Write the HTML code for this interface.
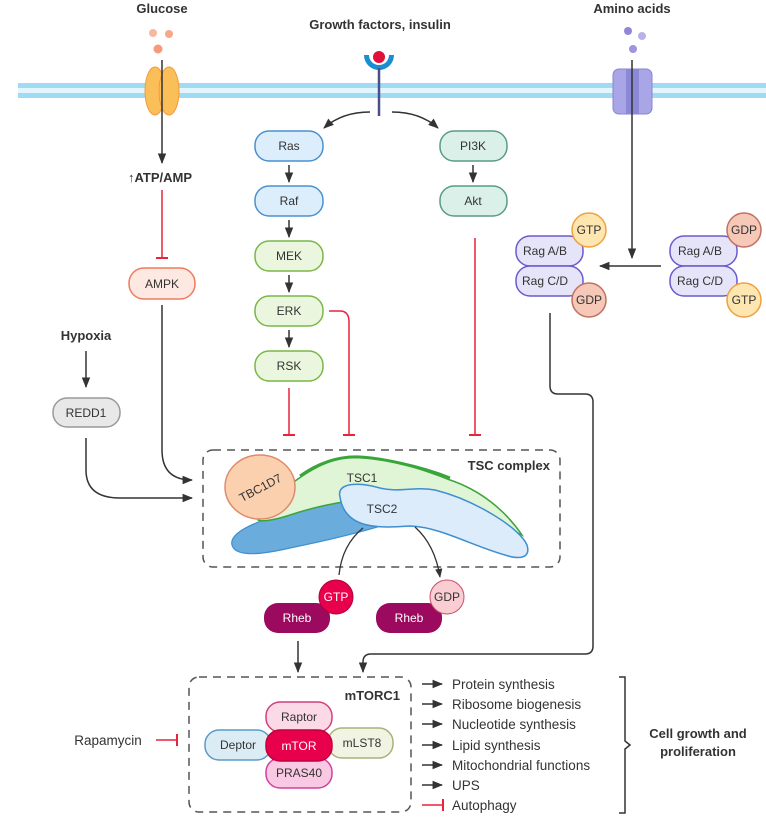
<!DOCTYPE html>
<html><head><meta charset="utf-8"><style>
html,body{margin:0;padding:0;background:#fff;}
svg{display:block;font-family:"Liberation Sans",sans-serif;}
.b{font-weight:bold;fill:#333;font-size:13px;}
.t{font-size:12px;fill:#333;}
.o{font-size:13.5px;fill:#333;}
</style></head><body>
<svg width="766" height="824" viewBox="0 0 766 824" xmlns="http://www.w3.org/2000/svg">
<defs>
<marker id="ah" viewBox="0 0 10 10" refX="9" refY="5" markerWidth="7" markerHeight="7" orient="auto-start-reverse"><path d="M0,1 L10,5 L0,9 Z" fill="#333"/></marker>
</defs>
<!-- membrane -->
<rect x="18" y="83" width="748" height="15" fill="#e3f6fd"/>
<rect x="18" y="83" width="748" height="5" fill="#9fdcf3"/>
<rect x="18" y="93" width="748" height="5" fill="#9fdcf3"/>

<!-- top labels -->
<text x="162" y="13" text-anchor="middle" class="b">Glucose</text>
<text x="380" y="29" text-anchor="middle" class="b">Growth factors, insulin</text>
<text x="632" y="13" text-anchor="middle" class="b">Amino acids</text>

<!-- glucose -->
<circle cx="153" cy="33" r="4" fill="#f8b8a0"/><circle cx="169" cy="34" r="4" fill="#f8a888"/><circle cx="158" cy="49" r="4.5" fill="#f59a7a"/>
<ellipse cx="155" cy="91" rx="10" ry="24" fill="#fbbf5a" stroke="#f39a3a"/>
<ellipse cx="169" cy="91" rx="10" ry="24" fill="#fbbf5a" stroke="#f39a3a"/>
<line x1="162" y1="60" x2="162" y2="163" stroke="#333" stroke-width="1.5" marker-end="url(#ah)"/>
<text x="160" y="182" text-anchor="middle" class="b" font-size="14">↑ATP/AMP</text>
<line x1="162" y1="190" x2="162" y2="258" stroke="#e8243c" stroke-width="1.5"/>
<line x1="156" y1="258" x2="168" y2="258" stroke="#e8243c" stroke-width="2"/>
<rect x="129" y="268" width="66" height="31" rx="15" fill="#fde9e2" stroke="#f07a5e" stroke-width="1.5"/>
<text x="162" y="288" text-anchor="middle" class="t">AMPK</text>
<path d="M162,305 L162,450 Q162,480 192,480" fill="none" stroke="#333" stroke-width="1.5" marker-end="url(#ah)"/>

<text x="86" y="340" text-anchor="middle" class="b">Hypoxia</text>
<line x1="86" y1="351" x2="86" y2="387" stroke="#333" stroke-width="1.5" marker-end="url(#ah)"/>
<rect x="53" y="398" width="67" height="29" rx="14" fill="#e8e8e8" stroke="#999" stroke-width="1.5"/>
<text x="86" y="417" text-anchor="middle" class="t">REDD1</text>
<path d="M86,438 L86,470 Q86,498 120,498 L192,498" fill="none" stroke="#333" stroke-width="1.5" marker-end="url(#ah)"/>

<!-- receptor -->
<path d="M364,55 A15,15 0 0 0 394,55 L389,55 A10,10 0 0 1 369,55 Z" fill="#1b8ed0"/>
<line x1="379" y1="68" x2="379" y2="116" stroke="#4a4f8c" stroke-width="2.5"/>
<circle cx="379" cy="57" r="6" fill="#e0103a"/>
<path d="M370,112 Q342,112 324,128" fill="none" stroke="#333" stroke-width="1.5" marker-end="url(#ah)"/>
<path d="M392,112 Q420,112 438,128" fill="none" stroke="#333" stroke-width="1.5" marker-end="url(#ah)"/>

<!-- MAPK column -->
<g stroke-width="1.5">
<rect x="255" y="131" width="68" height="30" rx="14" fill="#dcedfc" stroke="#4a90d0"/>
<rect x="255" y="186" width="68" height="30" rx="14" fill="#dcedfc" stroke="#4a90d0"/>
<rect x="255" y="241" width="68" height="30" rx="14" fill="#ebf6df" stroke="#7ab648"/>
<rect x="255" y="296" width="68" height="30" rx="14" fill="#ebf6df" stroke="#7ab648"/>
<rect x="255" y="351" width="68" height="30" rx="14" fill="#ebf6df" stroke="#7ab648"/>
<rect x="440" y="131" width="67" height="30" rx="14" fill="#dcf0ea" stroke="#5a9a88"/>
<rect x="440" y="186" width="67" height="30" rx="14" fill="#dcf0ea" stroke="#5a9a88"/>
</g>
<g class="t" text-anchor="middle">
<text x="289" y="150">Ras</text><text x="289" y="205">Raf</text><text x="289" y="260">MEK</text><text x="289" y="315">ERK</text><text x="289" y="370">RSK</text>
<text x="473" y="150">PI3K</text><text x="473" y="205">Akt</text>
</g>
<g stroke="#333" stroke-width="1.5" marker-end="url(#ah)">
<line x1="289" y1="165" x2="289" y2="182"/><line x1="289" y1="220" x2="289" y2="237"/><line x1="289" y1="275" x2="289" y2="292"/><line x1="289" y1="330" x2="289" y2="347"/><line x1="473" y1="165" x2="473" y2="182"/>
</g>
<g stroke="#e8243c" stroke-width="1.5" fill="none">
<line x1="289" y1="388" x2="289" y2="435"/><line x1="283" y1="435" x2="295" y2="435" stroke-width="2"/>
<path d="M329,311 L340,311 Q349,311 349,322 L349,435"/><line x1="343" y1="435" x2="355" y2="435" stroke-width="2"/>
<line x1="475" y1="238" x2="475" y2="435"/><line x1="469" y1="435" x2="481" y2="435" stroke-width="2"/>
</g>

<!-- amino acids -->
<circle cx="628" cy="31" r="4" fill="#8f87d8"/><circle cx="642" cy="36" r="4" fill="#b8b2ea"/><circle cx="633" cy="49" r="4" fill="#9d96dd"/>
<rect x="613" y="69" width="39" height="45" rx="6" fill="#a8a6e6" stroke="#8784d0"/>
<rect x="626" y="69" width="13" height="45" fill="#8b88d6"/>
<line x1="632" y1="60" x2="632" y2="258" stroke="#333" stroke-width="1.5" marker-end="url(#ah)"/>
<line x1="661" y1="266" x2="600" y2="266" stroke="#333" stroke-width="1.5" marker-end="url(#ah)"/>
<g stroke-width="1.5">
<rect x="516" y="236" width="67" height="30" rx="14" fill="#e6e4f8" stroke="#6a5acd"/>
<rect x="516" y="266" width="67" height="30" rx="14" fill="#e6e4f8" stroke="#6a5acd"/>
<rect x="670" y="236" width="67" height="30" rx="14" fill="#e6e4f8" stroke="#6a5acd"/>
<rect x="670" y="266" width="67" height="30" rx="14" fill="#e6e4f8" stroke="#6a5acd"/>
<circle cx="589" cy="230" r="17" fill="#fde6b0" stroke="#f0a040"/>
<circle cx="589" cy="300" r="17" fill="#f5c8b8" stroke="#c07060"/>
<circle cx="744" cy="230" r="17" fill="#f5c8b8" stroke="#c07060"/>
<circle cx="744" cy="300" r="17" fill="#fde6b0" stroke="#f0a040"/>
</g>
<g class="t" text-anchor="middle">
<text x="545" y="255">Rag A/B</text><text x="545" y="285">Rag C/D</text>
<text x="700" y="255">Rag A/B</text><text x="700" y="285">Rag C/D</text>
<text x="589" y="234">GTP</text><text x="589" y="304">GDP</text><text x="744" y="234">GDP</text><text x="744" y="304">GTP</text>
</g>
<path d="M550,313 L550,386 Q550,394 558,394 L585,394 Q593,394 593,402 L593,646 Q593,654 585,654 L371,654 Q363,654 363,662 L363,672" fill="none" stroke="#333" stroke-width="1.5" marker-end="url(#ah)"/>

<!-- TSC complex -->
<rect x="203" y="450" width="357" height="117" rx="10" fill="none" stroke="#555" stroke-width="1.5" stroke-dasharray="8,6"/>
<text x="550" y="470" text-anchor="end" class="b" font-size="14">TSC complex</text>
<path d="M232,545 C228,530 270,515 320,505 C345,498 360,492 380,492 L400,520 C370,530 330,540 290,548 C255,556 235,556 232,545 Z" fill="#6aacdc" stroke="#3d8fd0" stroke-width="1.2"/>
<path d="M258,520 L262,506 C290,485 315,462 345,458 C380,455 420,468 450,480 C480,490 505,510 522,535 C490,520 450,505 410,500 C370,494 320,505 290,515 C275,520 262,522 258,520 Z" fill="#dff5d6" stroke="#3aa53a" stroke-width="1.5"/>
<path d="M300,476 C320,462 340,456 360,457 C380,458 420,466 450,478" fill="none" stroke="#3aa53a" stroke-width="3"/>
<path d="M340,497 C336,482 360,482 380,488 C400,493 415,486 435,490 C475,500 520,528 527,545 C531,558 520,560 505,555 C470,545 440,527 410,526 C380,528 345,530 340,497 Z" fill="#dcecfb" stroke="#3d8fd0" stroke-width="1.5"/>
<ellipse cx="260" cy="487" rx="35" ry="32" fill="#fbd0ae" stroke="#e08a6a" stroke-width="1.5"/>
<text x="260" y="492" text-anchor="middle" class="t" font-size="14" transform="rotate(-28 260 487)">TBC1D7</text>
<text x="362" y="482" text-anchor="middle" class="t" font-size="14">TSC1</text>
<text x="382" y="513" text-anchor="middle" class="t" font-size="14">TSC2</text>
<path d="M363,528 Q342,545 339,575" fill="none" stroke="#333" stroke-width="1.3"/>
<path d="M415,527 Q435,545 440,577" fill="none" stroke="#333" stroke-width="1.3" marker-end="url(#ah)"/>

<!-- Rheb -->
<rect x="264" y="603" width="66" height="30" rx="14" fill="#9b0a5e"/>
<circle cx="336" cy="597" r="17" fill="#e8004c" stroke="#b0003a"/>
<text x="297" y="622" text-anchor="middle" class="t" fill="#fff" style="fill:#fff">Rheb</text>
<text x="336" y="601" text-anchor="middle" class="t" style="fill:#fff">GTP</text>
<rect x="376" y="603" width="66" height="30" rx="14" fill="#9b0a5e"/>
<circle cx="447" cy="597" r="17" fill="#f9cdd2" stroke="#c85068"/>
<text x="409" y="622" text-anchor="middle" class="t" style="fill:#fff">Rheb</text>
<text x="447" y="601" text-anchor="middle" class="t">GDP</text>
<line x1="298" y1="641" x2="298" y2="672" stroke="#333" stroke-width="1.5" marker-end="url(#ah)"/>

<!-- mTORC1 -->
<rect x="189" y="677" width="222" height="135" rx="10" fill="none" stroke="#555" stroke-width="1.5" stroke-dasharray="8,6"/>
<text x="400" y="700" text-anchor="end" class="b" font-size="14">mTORC1</text>
<g stroke-width="1.5">
<rect x="205" y="730" width="66" height="30" rx="14" fill="#dcecf5" stroke="#5a9ac8"/>
<rect x="328" y="728" width="65" height="30" rx="14" fill="#f1f4e2" stroke="#a9b07a"/>
<rect x="266" y="702" width="66" height="30" rx="14" fill="#fbd9e6" stroke="#d0407a"/>
<rect x="266" y="758" width="66" height="30" rx="14" fill="#f9c8e2" stroke="#d040a0"/>
<rect x="266" y="730" width="66" height="31" rx="14" fill="#e8004c" stroke="#c0003c"/>
</g>
<g class="t" text-anchor="middle">
<text x="238" y="749">Deptor</text><text x="362" y="747">mLST8</text><text x="299" y="721">Raptor</text><text x="299" y="777">PRAS40</text>
<text x="299" y="750" style="fill:#fff">mTOR</text>
</g>
<text x="108" y="745" text-anchor="middle" class="o">Rapamycin</text>
<line x1="156" y1="740" x2="177" y2="740" stroke="#e8243c" stroke-width="1.5"/>
<line x1="177" y1="734" x2="177" y2="746" stroke="#e8243c" stroke-width="2"/>

<!-- outputs -->
<g stroke="#333" stroke-width="1.5" marker-end="url(#ah)">
<line x1="422" y1="684" x2="442" y2="684"/><line x1="422" y1="704" x2="442" y2="704"/><line x1="422" y1="724" x2="442" y2="724"/><line x1="422" y1="745" x2="442" y2="745"/><line x1="422" y1="765" x2="442" y2="765"/><line x1="422" y1="785" x2="442" y2="785"/>
</g>
<line x1="422" y1="805" x2="443" y2="805" stroke="#e8243c" stroke-width="1.5"/>
<line x1="443" y1="799" x2="443" y2="811" stroke="#e8243c" stroke-width="2"/>
<g class="o">
<text x="452" y="689">Protein synthesis</text><text x="452" y="709">Ribosome biogenesis</text><text x="452" y="729">Nucleotide synthesis</text><text x="452" y="750">Lipid synthesis</text><text x="452" y="770">Mitochondrial functions</text><text x="452" y="790">UPS</text><text x="452" y="810">Autophagy</text>
</g>
<path d="M619,677 L625,677 L625,741 L630,745 L625,749 L625,813 L619,813" fill="none" stroke="#333" stroke-width="1.5"/>
<text x="698" y="738" text-anchor="middle" class="b">Cell growth and</text>
<text x="698" y="756" text-anchor="middle" class="b">proliferation</text>
</svg>
</body></html>
